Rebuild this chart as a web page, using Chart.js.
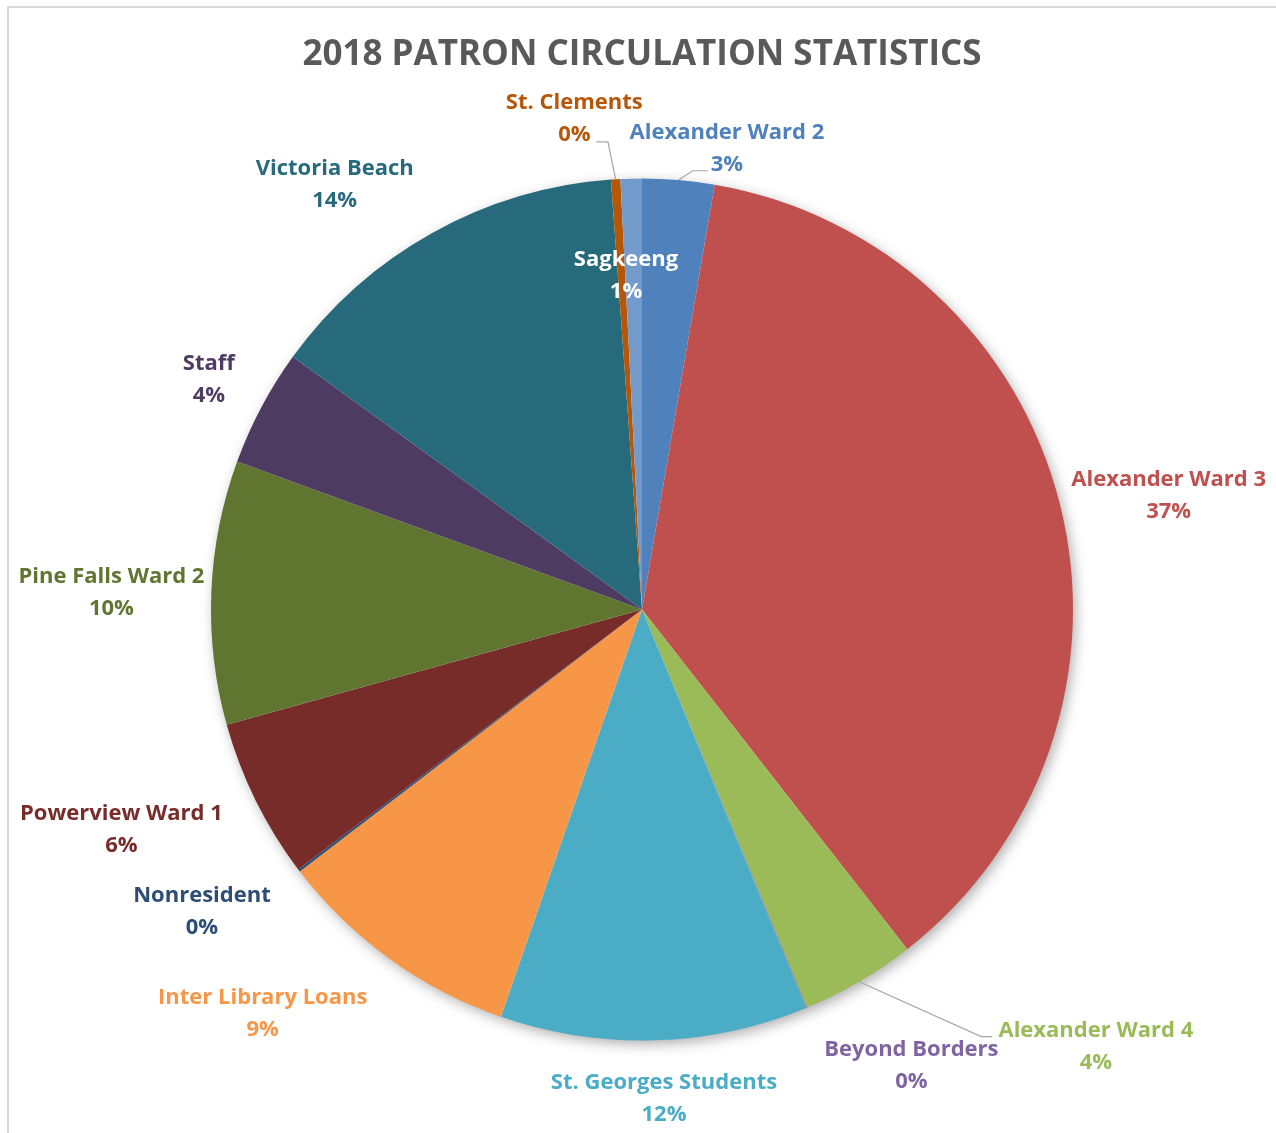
<!DOCTYPE html>
<html>
<head>
<meta charset="utf-8">
<title>2018 Patron Circulation Statistics</title>
<script src="https://cdn.jsdelivr.net/npm/chart.js@4"></script>
<style>
  html, body { margin: 0; padding: 0; background: #fff; overflow: hidden; }
  #frame {
    position: absolute; left: 7px; top: 6px;
    width: 1400px; height: 1300px;
    border: 2px solid #d9d9d9;
  }
  #piechart { position: absolute; left: 0; top: 0; }
</style>
</head>
<body>
<div id="frame"></div>
<canvas id="piechart" width="1276" height="1133"></canvas>
<script>
// data (share of circulation, %)
const patrons = ['Alexander Ward 2', 'Alexander Ward 3', 'Alexander Ward 4', 'Beyond Borders',
  'St. Georges Students', 'Inter Library Loans', 'Nonresident', 'Powerview Ward 1',
  'Pine Falls Ward 2', 'Staff', 'Victoria Beach', 'St. Clements', 'Sagkeeng']
const shares = [2.7, 36.8, 4.3, 0.03, 11.55, 9.3, 0.1, 6.0, 9.9, 4.4, 13.9, 0.35, 0.8]

const sliceColors = ['#4F81BD', '#C0504D', '#9BBB59', '#8064A2', '#4BACC6', '#F79646', '#2C4D75',
  '#772C2A', '#5F7530', '#4D3B62', '#276A7C', '#B65708', '#729ACA']
const labelColors = ['#4F81BD', '#C0504D', '#9BBB59', '#8064A2', '#4BACC6', '#F79646', '#2C4D75',
  '#772C2A', '#5F7530', '#4D3B62', '#276A7C', '#B65708', '#FFFFFF']

// where each label sits, relative to pie centre, in units of the radius
const labelSpots = [[0.197, -1.069], [1.222, -0.264], [1.053, 1.014], [0.625, 1.058],
  [0.051, 1.134], [-0.880, 0.938], [-1.021, 0.701], [-1.208, 0.512], [-1.231, -0.039],
  [-1.005, -0.532], [-0.713, -0.986], [-0.157, -1.139], [-0.037, -0.775]]

// leader lines: slice index -> elbow and end point (radius units)
const leaders = {
  0: [[0.118, -1.018], [0.153, -1.018]],
  11: [[-0.079, -1.085], [-0.106, -1.085]],
  2: [[0.787, 0.991], [0.8125, 0.991]]
}

const FONT = '"Open Sans", "Liberation Sans", sans-serif'

const pieShadow = {
  id: 'pieShadow',
  beforeDatasetsDraw(chart) {
    const arc = chart.getDatasetMeta(0).data[0]
    if (!arc) return
    const c = chart.ctx
    c.save()
    c.shadowColor = 'rgba(0,0,0,0.35)'
    c.shadowBlur = 14
    c.shadowOffsetX = 3
    c.shadowOffsetY = 4
    c.fillStyle = '#ffffff'
    c.beginPath()
    c.arc(arc.x, arc.y, arc.outerRadius - 1, 0, Math.PI * 2)
    c.fill()
    c.restore()
  }
}

const sliceLabels = {
  id: 'sliceLabels',
  afterDatasetsDraw(chart) {
    const c = chart.ctx
    const arcs = chart.getDatasetMeta(0).data
    const cx = arcs[0].x, cy = arcs[0].y, r = arcs[0].outerRadius
    const total = shares.reduce((a, b) => a + b, 0)

    // leader lines
    c.save()
    c.strokeStyle = '#a6a6a6'
    c.lineWidth = 1.2
    Object.keys(leaders).forEach(k => {
      const a = arcs[k]
      const mid = (a.startAngle + a.endAngle) / 2
      const pts = leaders[k]
      c.beginPath()
      c.moveTo(cx + Math.cos(mid) * r, cy + Math.sin(mid) * r)
      pts.forEach(p => c.lineTo(cx + p[0] * r, cy + p[1] * r))
      c.stroke()
    })
    c.restore()

    // labels
    c.save()
    c.font = 'bold 22px ' + FONT
    c.textAlign = 'center'
    c.textBaseline = 'middle'
    patrons.forEach((name, i) => {
      const x = cx + labelSpots[i][0] * r
      const y = cy + labelSpots[i][1] * r
      const pct = Math.round(shares[i] / total * 100) + '%'
      c.fillStyle = labelColors[i]
      c.fillText(name, x, y - 16)
      c.fillText(pct, x, y + 16)
    })
    c.restore()

    // title
    c.save()
    c.font = 'bold 35px ' + FONT
    c.fillStyle = '#595959'
    c.textAlign = 'center'
    c.textBaseline = 'middle'
    c.fillText('2018 PATRON CIRCULATION STATISTICS', 642, 55)
    c.restore()
  }
}

const ctx = document.getElementById('piechart')

new Chart(ctx, {
  type: 'pie',
  data: {
    labels: patrons,
    datasets: [{
      data: shares,
      backgroundColor: sliceColors,
      borderWidth: 0
    }]
  },
  options: {
    responsive: false,
    animation: false,
    radius: 431,
    layout: {
      padding: { top: 178, bottom: 92, left: 8, right: 0 }
    },
    plugins: {
      legend: { display: false },
      tooltip: { enabled: false },
      title: { display: false }
    }
  },
  plugins: [pieShadow, sliceLabels]
});
</script>
</body>
</html>
